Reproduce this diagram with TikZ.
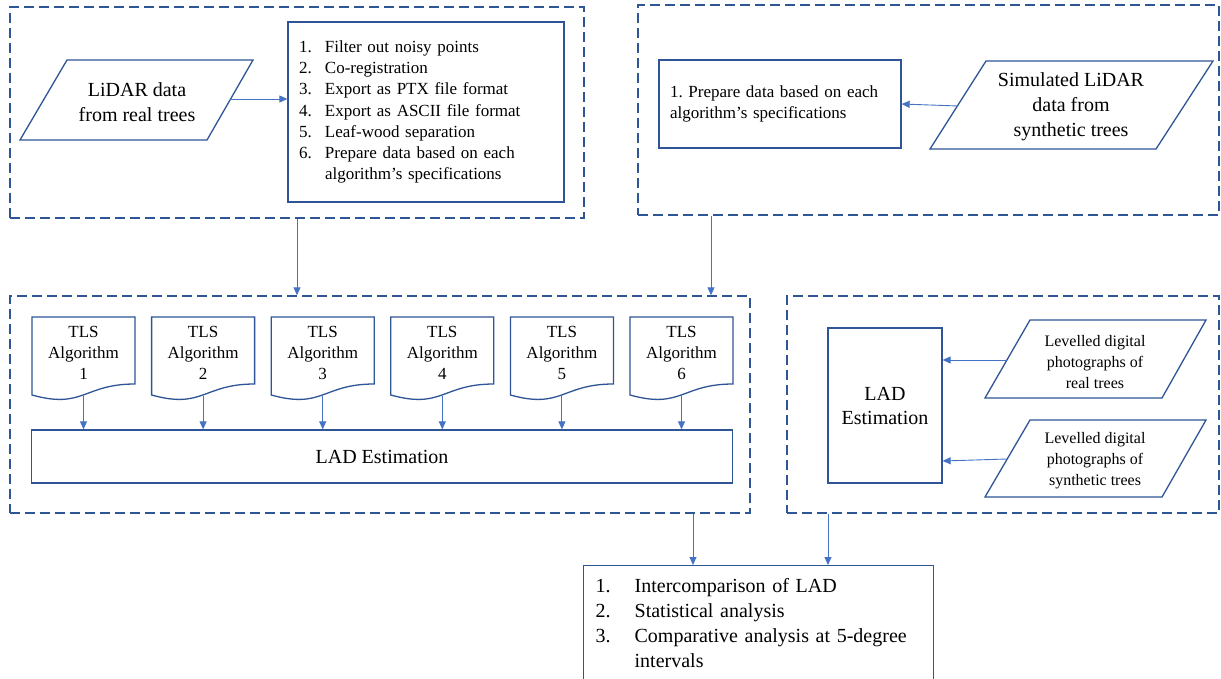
\documentclass[tikz,border=0pt]{standalone}
\usepackage{fontspec}
\setmainfont{Liberation Serif}
\usetikzlibrary{arrows.meta}
\definecolor{shapec}{HTML}{2F5597}
\definecolor{arrowc}{HTML}{4472C4}
\newcommand\fsz[2]{\fontsize{#1}{#2}\selectfont}
\begin{document}
\begin{tikzpicture}[x=1pt,y=-1pt,
  grp/.style={draw=shapec, line width=1.4pt, dash pattern=on 10pt off 5pt, rectangle, inner sep=0pt},
  box/.style={draw=shapec, line width=1.3pt, rectangle},
  shp/.style={draw=shapec, line width=1.3pt},
  arr/.style={draw=arrowc, line width=0.9pt, -{Triangle[length=8pt,width=7pt]}},
  txt/.style={align=center, inner sep=0pt}]
\useasboundingbox (0,0) rectangle (1221,679);
\clip (0,0) rectangle (1221,679);
\fill[white] (0,0) rectangle (1221,679);

% group boxes
\node[grp, minimum width=574, minimum height=211] (g1) at (297,112.5) {};
\node[grp, minimum width=581, minimum height=210] (g2) at (928.5,110) {};
\node[grp, minimum width=740, minimum height=217] (g3) at (380,404.5) {};
\node[grp, minimum width=432, minimum height=217] (g4) at (1003,404.5) {};

% top-left group
\draw[shp] (20,140) -- (67,60) -- (253,60) -- (207,140) -- cycle;
\node[txt, font=\fsz{20}{25}] (lidar) at (137,102) {LiDAR data\\from real trees};
\coordinate (lidarR) at (230,99);
\node[box, minimum width=276, minimum height=180, text width=254, inner xsep=11, align=left, font=\fsz{17}{21.3}] (list) at (426,112)
 {\makebox[26pt][l]{1.}Filter out noisy points\\
  \makebox[26pt][l]{2.}Co-registration\\
  \makebox[26pt][l]{3.}Export as PTX file format\\
  \makebox[26pt][l]{4.}Export as ASCII file format\\
  \makebox[26pt][l]{5.}Leaf-wood separation\\
  \makebox[26pt][l]{6.}Prepare data based on each\\
  \hspace*{26pt}algorithm’s specifications};
\draw[arr] (lidarR) -- (lidarR -| list.west);

% top-right group
\node[box, minimum width=242, minimum height=88, text width=220, inner xsep=11, align=left, font=\fsz{17}{20.5}] (prep) at (780,104)
 {1.\ Prepare data based on each\\algorithm’s specifications};
\draw[shp] (930,149) -- (986,61) -- (1213,61) -- (1156,149) -- cycle;
\node[txt, font=\fsz{20}{25}] (sim) at (1071,107) {Simulated LiDAR\\data from\\synthetic trees};
\coordinate (simL) at (958,106);
\draw[arr] (simL) -- (prep.east);

% connectors to middle-left group
\coordinate (c1) at (297,0);
\coordinate (c2) at (711,0);
\draw[arr] (c1 |- g1.south) -- (c1 |- g3.north);
\draw[arr] (c2 |- g2.south) -- (c2 |- g3.north);

% middle-left group
\node[box, minimum width=701, minimum height=53, font=\fsz{20}{25}] (lad) at (382,456.5) {LAD Estimation};
\foreach \i in {1,...,6}{
  \pgfmathsetmacro\cx{83.5+(\i-1)*119.6}
  \draw[shp] (\cx-51.5,317) -- (\cx+51.5,317) -- (\cx+51.5,384)
     .. controls (\cx,384) and (\cx,409.4) .. (\cx-51.5,395) -- cycle;
  \node[txt, font=\fsz{17}{21.3}] (tls\i) at (\cx,353) {TLS\\Algorithm\\\i};
  \coordinate (tlsb\i) at (\cx,396);
  \draw[arr] (tlsb\i) -- (tlsb\i |- lad.north);
}

% middle-right group
\node[box, minimum width=114, minimum height=155, font=\fsz{20}{24}, align=center] (lad2) at (885,405.5) {LAD\\Estimation};
\draw[shp] (985,398) -- (1030,320) -- (1206,320) -- (1162,398) -- cycle;
\node[txt, font=\fsz{16}{21}] (photoR) at (1095,362) {Levelled digital\\photographs of\\real trees};
\draw[shp] (985,497) -- (1030,420) -- (1206,420) -- (1162,497) -- cycle;
\node[txt, font=\fsz{16}{21}] (photoS) at (1095,461) {Levelled digital\\photographs of\\synthetic trees};
\coordinate (prL) at (1007,360);
\coordinate (psL) at (1007,459);
\draw[arr] (prL) -- (prL -| lad2.east);
\draw[arr] (psL) -- ([yshift=-2pt]psL -| lad2.east);

% bottom box
\node[box, anchor=north west, text width=326, inner xsep=12, inner ysep=13, align=left, font=\fsz{20}{25}] (final) at (583,565)
 {\makebox[39pt][l]{1.}Intercomparison of LAD\\
  \makebox[39pt][l]{2.}Statistical analysis\\
  \makebox[39pt][l]{3.}Comparative analysis at 5-degree\\
  \hspace*{39pt}intervals};
\coordinate (c3) at (693,0);
\coordinate (c4) at (828,0);
\draw[arr] (c3 |- g3.south) -- (c3 |- final.north);
\draw[arr] (c4 |- g4.south) -- (c4 |- final.north);
\end{tikzpicture}
\end{document}
